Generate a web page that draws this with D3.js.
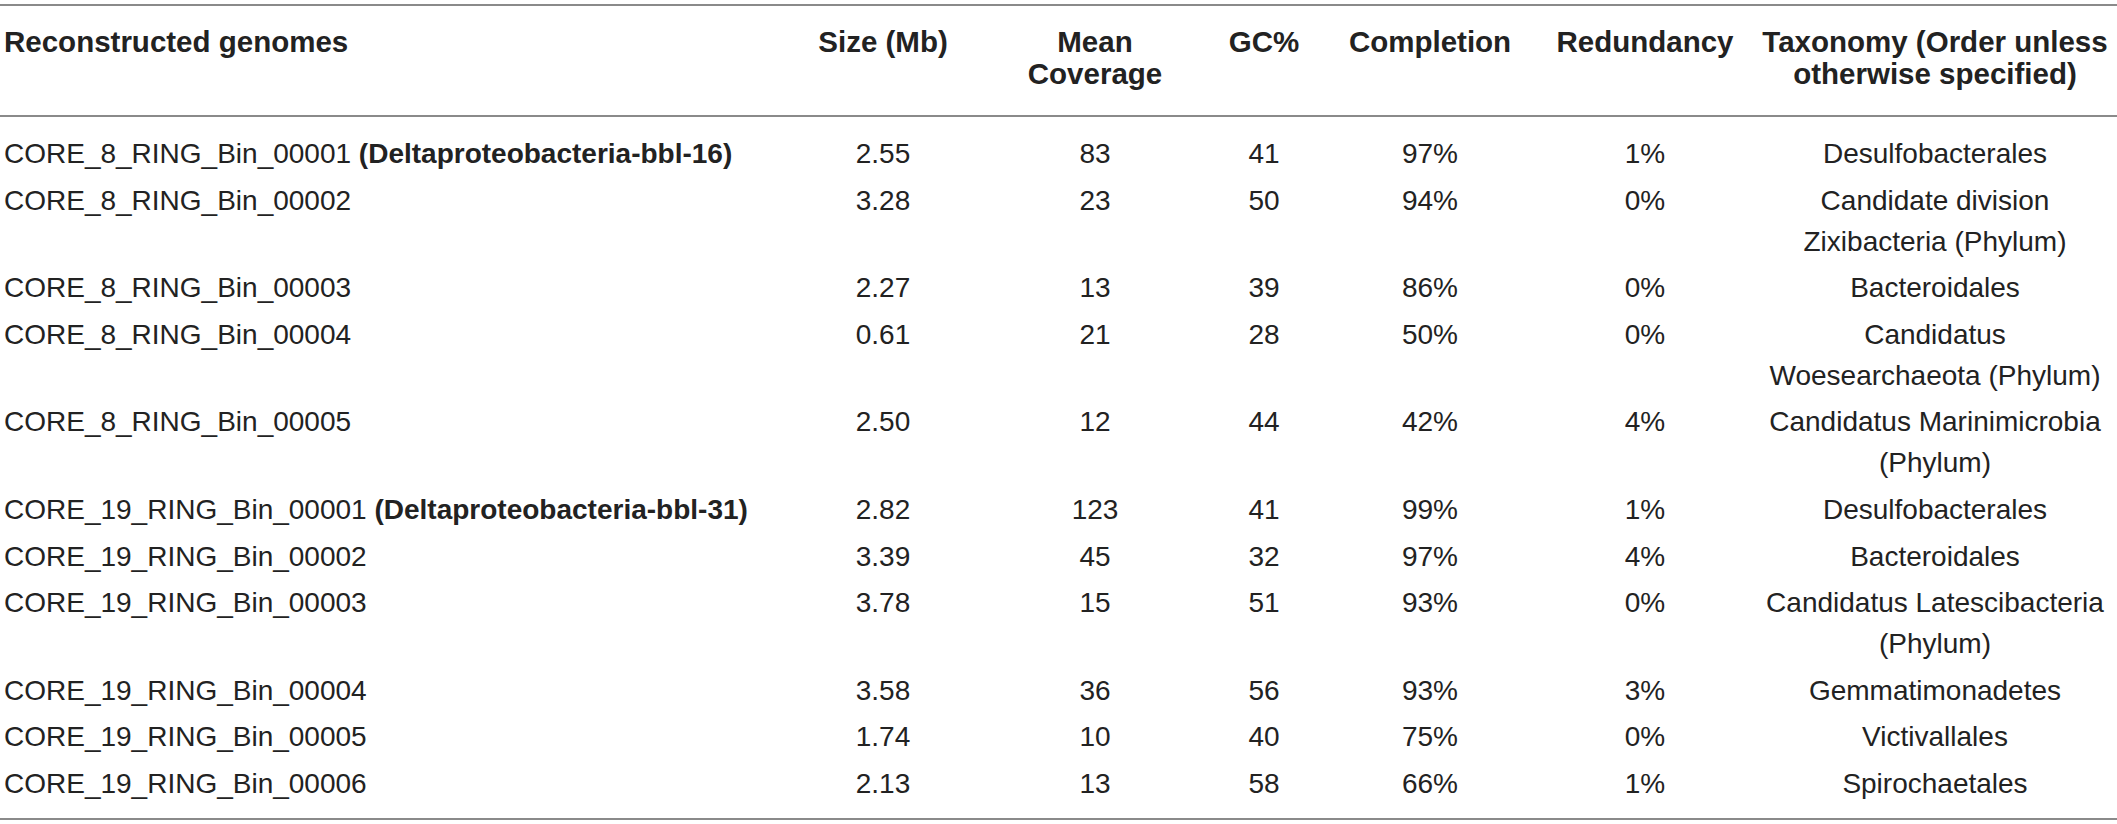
<!DOCTYPE html>
<html>
<head>
<meta charset="utf-8">
<script src="https://cdn.jsdelivr.net/npm/d3@7"></script>
<style>
  html, body { margin: 0; padding: 0; background: #ffffff; }
  svg { display: block; }
</style>
</head>
<body>
<script>
// ---------- DATA ----------
const headerLines = [
  ["Reconstructed genomes"],
  ["Size (Mb)"],
  ["Mean", "Coverage"],
  ["GC%"],
  ["Completion"],
  ["Redundancy"],
  ["Taxonomy (Order unless", "otherwise specified)"]
];
const genomes = [
  "CORE_8_RING_Bin_00001", "CORE_8_RING_Bin_00002", "CORE_8_RING_Bin_00003",
  "CORE_8_RING_Bin_00004", "CORE_8_RING_Bin_00005", "CORE_19_RING_Bin_00001",
  "CORE_19_RING_Bin_00002", "CORE_19_RING_Bin_00003", "CORE_19_RING_Bin_00004",
  "CORE_19_RING_Bin_00005", "CORE_19_RING_Bin_00006"
];
const genomeTags = [
  "(Deltaproteobacteria-bbl-16)", "", "", "", "", "(Deltaproteobacteria-bbl-31)",
  "", "", "", "", ""
];
const sizeMb = ["2.55", "3.28", "2.27", "0.61", "2.50", "2.82", "3.39", "3.78", "3.58", "1.74", "2.13"];
const meanCoverage = [83, 23, 13, 21, 12, 123, 45, 15, 36, 10, 13];
const gcPercent = [41, 50, 39, 28, 44, 41, 32, 51, 56, 40, 58];
const completion = ["97%", "94%", "86%", "50%", "42%", "99%", "97%", "93%", "93%", "75%", "66%"];
const redundancy = ["1%", "0%", "0%", "0%", "4%", "1%", "4%", "0%", "3%", "0%", "1%"];
const taxonomy = [
  ["Desulfobacterales"],
  ["Candidate division", "Zixibacteria (Phylum)"],
  ["Bacteroidales"],
  ["Candidatus", "Woesearchaeota (Phylum)"],
  ["Candidatus Marinimicrobia", "(Phylum)"],
  ["Desulfobacterales"],
  ["Bacteroidales"],
  ["Candidatus Latescibacteria", "(Phylum)"],
  ["Gemmatimonadetes"],
  ["Victivallales"],
  ["Spirochaetales"]
];
const columnKeys = ["genome", "size", "coverage", "gc", "completion", "redundancy", "taxonomy"];

// ---------- LAYOUT ----------
const W = 2117, H = 824;
const FONT = "'Liberation Sans', Arial, Helvetica, sans-serif";
const textColor = "#222";
const ruleColor = "#8a8a8a";

const svg = d3.select("body").append("svg")
  .attr("width", W).attr("height", H)
  .attr("viewBox", `0 0 ${W} ${H}`);

// column anchor positions
const colX = d3.scaleOrdinal()
  .domain(columnKeys)
  .range([4, 883, 1095, 1264, 1430, 1645, 1935]);
const colAnchor = k => (k === "genome" ? "start" : "middle");

// row baselines: each row takes one pitch, plus extra per wrapped line
const rowPitch = 46.6, wrapStep = 41;
const extraBefore = [];
taxonomy.reduce((acc, t, i) => { extraBefore[i] = acc; return acc + (t.length - 1); }, 0);
const rowScale = d3.scaleLinear().domain([0, 1]).range([163, 163 + rowPitch]);
const rowY = i => rowScale(i) + extraBefore[i] * wrapStep;

const headerY = d3.scaleLinear().domain([0, 1]).range([52, 84]);

// ---------- RULES ----------
const rules = [5, 116, 819];
svg.append("g").selectAll("line").data(rules).join("line")
  .attr("x1", 0).attr("x2", W)
  .attr("y1", d => d).attr("y2", d => d)
  .attr("stroke", ruleColor).attr("stroke-width", 2);

// ---------- HEADER ----------
const hdr = svg.append("g")
  .attr("font-family", FONT).attr("font-weight", "bold")
  .attr("font-size", 29.5).attr("fill", textColor);
hdr.selectAll("text").data(headerLines).join("text")
  .attr("x", (d, i) => colX(columnKeys[i]))
  .attr("y", headerY(0))
  .attr("text-anchor", (d, i) => colAnchor(columnKeys[i]))
  .selectAll("tspan").data(d => d).join("tspan")
  .attr("x", function () { return d3.select(this.parentNode).attr("x"); })
  .attr("y", (d, j) => headerY(j))
  .text(d => d);

// ---------- BODY ----------
const body = svg.append("g")
  .attr("font-family", FONT).attr("font-size", 28).attr("fill", textColor);

// genome names (with bold tags)
const gText = body.append("g").selectAll("text").data(genomes).join("text")
  .attr("x", colX("genome"))
  .attr("y", (d, i) => rowY(i))
  .attr("text-anchor", "start");
gText.append("tspan").text(d => d);
gText.filter((d, i) => genomeTags[i] !== "")
  .append("tspan")
  .attr("font-weight", "bold")
  .text((d) => " " + genomeTags[genomes.indexOf(d)]);

// numeric columns
const simpleCols = [
  ["size", sizeMb],
  ["coverage", meanCoverage],
  ["gc", gcPercent],
  ["completion", completion],
  ["redundancy", redundancy]
];
simpleCols.forEach(([key, values]) => {
  body.append("g").selectAll("text").data(values).join("text")
    .attr("x", colX(key))
    .attr("y", (d, i) => rowY(i))
    .attr("text-anchor", "middle")
    .text(d => d);
});

// taxonomy (possibly wrapped)
body.append("g").selectAll("text").data(taxonomy).join("text")
  .attr("text-anchor", "middle")
  .each(function (lines, i) {
    d3.select(this).selectAll("tspan").data(lines).join("tspan")
      .attr("x", colX("taxonomy"))
      .attr("y", (d, j) => rowY(i) + j * wrapStep)
      .text(d => d);
  });
</script>
</body>
</html>
